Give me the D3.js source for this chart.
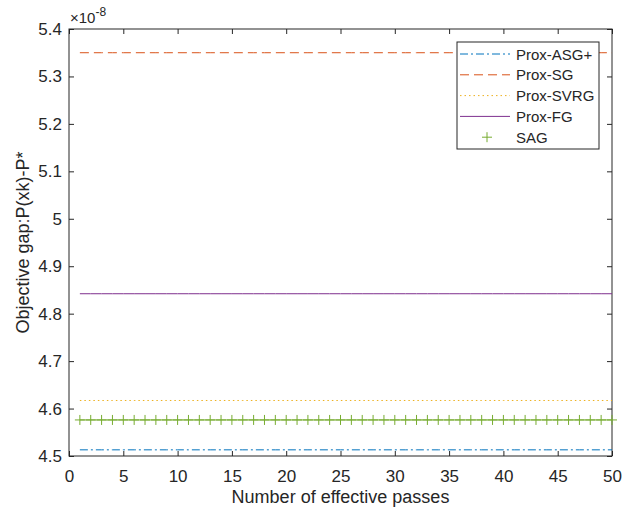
<!DOCTYPE html>
<html>
<head>
<meta charset="utf-8">
<script src="https://cdn.jsdelivr.net/npm/d3@7"></script>
<style>
  body { margin: 0; background: #fff; }
  svg text { font-family: "Liberation Sans", Arial, sans-serif; fill: #262626; }
</style>
</head>
<body>
<svg id="chart" width="622" height="511"></svg>
<script>
// values in units of 1e-8
const passes = d3.range(1, 51);
const seriesNames = ['Prox-ASG+', 'Prox-SG', 'Prox-SVRG', 'Prox-FG', 'SAG'];
const seriesLevels = [4.513, 5.350, 4.617, 4.842, 4.576];
const seriesColors = ['#0072BD', '#D95319', '#EDB120', '#7E2F8E', '#77AC30'];
const seriesDash = ['8,3,2,3', '9,5', '1.5,3', null, null];
const xTicks = d3.range(0, 51, 5);
const yTicks = [4.5, 4.6, 4.7, 4.8, 4.9, 5, 5.1, 5.2, 5.3, 5.4];

const svg = d3.select('#chart');
const margin = { top: 29, right: 10, bottom: 55, left: 69 };
const width = 622 - margin.left - margin.right;
const height = 511 - margin.top - margin.bottom;
const axisColor = '#262626';

const g = svg.append('g').attr('transform', `translate(${margin.left},${margin.top})`);

const x = d3.scaleLinear().domain([0, 50]).range([0, width]);
const y = d3.scaleLinear().domain([4.5, 5.4]).range([height, 0]);

// Axes with inward ticks (MATLAB style), ticks on all four sides
function styleAxis(sel) {
    sel.select('.domain').remove();
    sel.selectAll('line').attr('stroke', axisColor);
    sel.selectAll('text').style('font-size', '17px').attr('fill', axisColor);
}

g.append('g')
    .attr('transform', `translate(0,${height})`)
    .call(d3.axisBottom(x).tickValues(xTicks).tickSizeInner(-5).tickSizeOuter(0).tickPadding(14))
    .call(styleAxis);

g.append('g')
    .call(d3.axisTop(x).tickValues(xTicks).tickSizeInner(-5).tickSizeOuter(0).tickFormat(''))
    .call(styleAxis);

g.append('g')
    .call(d3.axisLeft(y).tickValues(yTicks).tickSizeInner(-5).tickSizeOuter(0).tickPadding(7).tickFormat(d3.format('')))
    .call(styleAxis);

g.append('g')
    .attr('transform', `translate(${width},0)`)
    .call(d3.axisRight(y).tickValues(yTicks).tickSizeInner(-5).tickSizeOuter(0).tickFormat(''))
    .call(styleAxis);

// Box
g.append('rect')
    .attr('width', width)
    .attr('height', height)
    .attr('fill', 'none')
    .attr('stroke', axisColor)
    .attr('stroke-width', 1);

// Exponent label
const expo = svg.append('text')
    .attr('x', margin.left + 1)
    .attr('y', 23)
    .style('font-size', '15px');
expo.append('tspan').text('\u00d710');
expo.append('tspan').attr('dy', -7).style('font-size', '12px').text('-8');

// Lines
const line = d3.line()
    .x(d => x(d.p))
    .y(d => y(d.v));

seriesNames.forEach((name, i) => {
    const pts = passes.map(p => ({ p, v: seriesLevels[i] }));
    const path = g.append('path')
        .datum(pts)
        .attr('d', line)
        .attr('fill', 'none')
        .attr('stroke', seriesColors[i])
        .attr('stroke-width', 1);
    if (seriesDash[i]) path.attr('stroke-dasharray', seriesDash[i]);

    if (name === 'SAG') {
        g.selectAll('.sag-marker')
            .data(pts)
            .enter()
            .append('path')
            .attr('class', 'sag-marker')
            .attr('transform', d => `translate(${x(d.p)},${y(d.v)})`)
            .attr('d', 'M-5,0H5M0,-5V5')
            .attr('stroke', seriesColors[i])
            .attr('stroke-width', 1);
    }
});

// Legend
const legend = svg.append('g').attr('transform', 'translate(457,42)');
legend.append('rect')
    .attr('width', 142)
    .attr('height', 107)
    .attr('fill', '#fff')
    .attr('stroke', axisColor)
    .attr('stroke-width', 1);

seriesNames.forEach((name, i) => {
    const ly = 12 + i * 20.8;
    if (name === 'SAG') {
        legend.append('path')
            .attr('transform', `translate(30,${ly})`)
            .attr('d', 'M-5,0H5M0,-5V5')
            .attr('stroke', seriesColors[i]);
    } else {
        const l = legend.append('line')
            .attr('x1', 3).attr('x2', 53)
            .attr('y1', ly).attr('y2', ly)
            .attr('stroke', seriesColors[i]);
        if (seriesDash[i]) l.attr('stroke-dasharray', seriesDash[i]);
    }
    legend.append('text')
        .attr('x', 59)
        .attr('y', ly + 5.5)
        .style('font-size', '15px')
        .text(name);
});

// Axis labels
svg.append('text')
    .attr('x', margin.left + width / 2)
    .attr('y', 503)
    .attr('text-anchor', 'middle')
    .style('font-size', '18px')
    .text('Number of effective passes');

svg.append('text')
    .attr('transform', `translate(29,${margin.top + height / 2}) rotate(-90)`)
    .attr('text-anchor', 'middle')
    .style('font-size', '18px')
    .text('Objective gap:P(xk)-P*');
</script>
</body>
</html>
